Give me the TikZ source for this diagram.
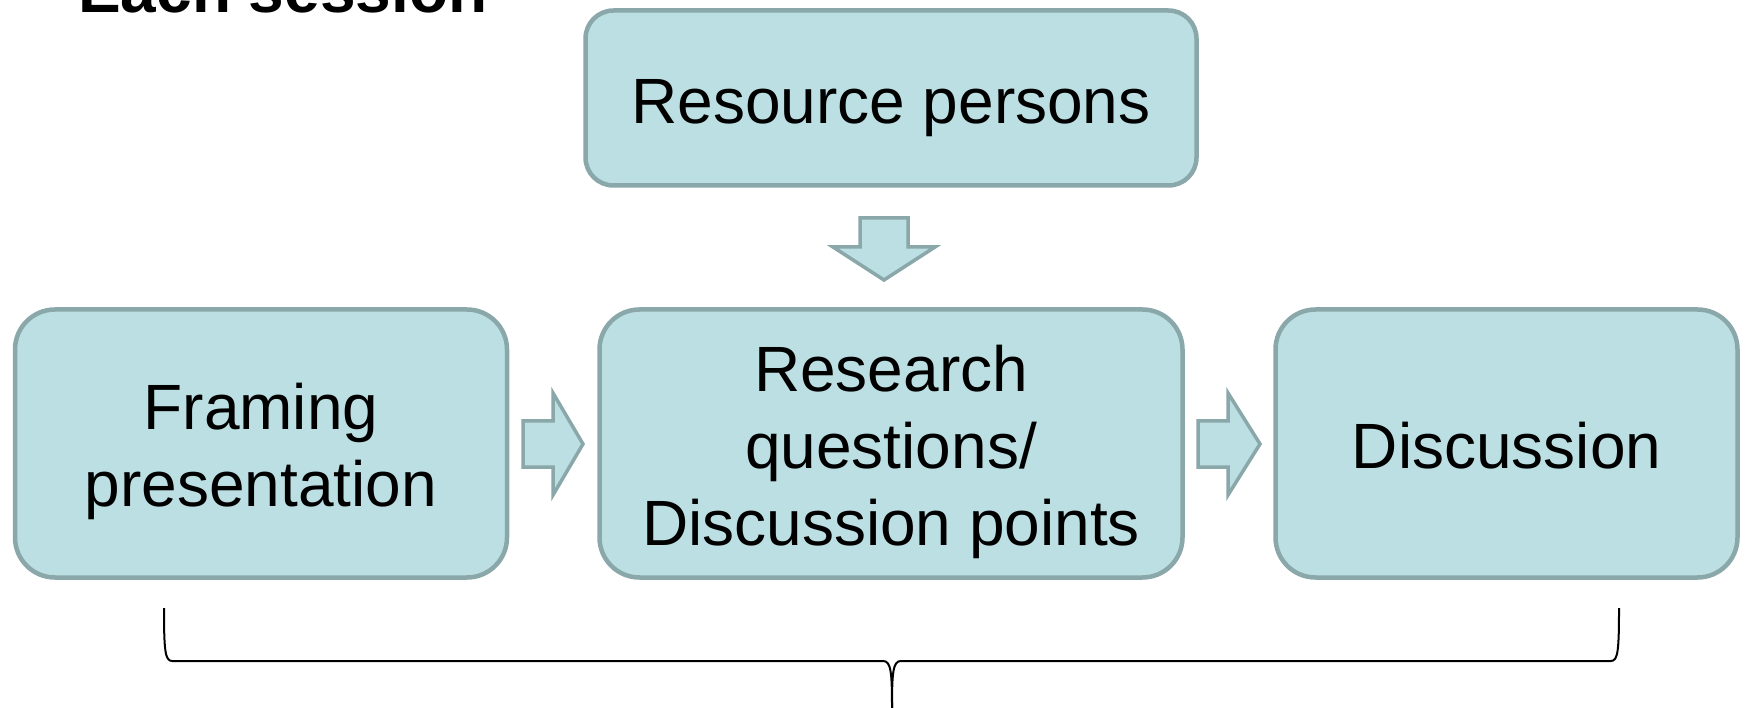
\documentclass[tikz,border=0pt]{standalone}
\usepackage{fontspec}
\setmainfont{Liberation Sans}
\usetikzlibrary{calc}
\definecolor{boxfill}{HTML}{BBDFE2}
\definecolor{boxline}{HTML}{8AA7A9}
\begin{document}
\begin{tikzpicture}[x=1pt,y=-1pt,
  stagebox/.style={draw=boxline, fill=boxfill, line width=4.5pt, rectangle,
    rounded corners=40pt, inner sep=0pt},
  stagetext/.style={inner sep=0pt, align=center, font=\fontsize{64}{77}\selectfont},
  blockarrow/.style={draw=boxline, fill=boxfill, line width=3.5pt, line join=miter},
  bracepath/.style={draw=black, line width=2pt}
]
\useasboundingbox (0,0) rectangle (1746,708);
\node[anchor=base west, font=\bfseries\fontsize{64}{76}\selectfont, inner sep=0pt] (title) at (78,13) {Each session};
\node[stagebox, rounded corners=28pt, minimum width=611pt, minimum height=175pt] (res) at (891,98) {};
\node[stagebox, minimum width=492pt, minimum height=268pt] (fram) at (261,443.5) {};
\node[stagebox, minimum width=583pt, minimum height=268pt] (mid) at (891,443.5) {};
\node[stagebox, minimum width=462pt, minimum height=268pt] (disc) at (1506.5,443.5) {};
\node[stagetext] (rest) at ($(res.center)+(0,10)$) {Resource persons};
\node[stagetext] (framt) at ($(fram.center)+(0,8)$) {Framing\\presentation};
\node[stagetext] (midt) at ($(mid.center)+(0,8)$) {Research\\questions/\\Discussion points};
\node[stagetext] (disct) at ($(disc.center)+(0,2)$) {Discussion};
% block arrows
\coordinate (a1) at (523,444);
\coordinate (a2) at (1198,444);
\coordinate (a3) at (884,218);
\draw[blockarrow] (a1) ++(0,-23) -- ++(30,0) -- ++(0,-28) -- ++(30,51) -- ++(-30,51) -- ++(0,-28) -- ++(-30,0) -- cycle;
\draw[blockarrow] (a2) ++(0,-23) -- ++(30,0) -- ++(0,-28) -- ++(32,51) -- ++(-32,51) -- ++(0,-28) -- ++(-30,0) -- cycle;
\draw[blockarrow] (a3) ++(-24,0) -- ++(0,29) -- ++(-27,0) -- ++(51,33) -- ++(51,-33) -- ++(-27,0) -- ++(0,-29) -- cycle;
% brace
\coordinate (bl) at (164,608);
\coordinate (br) at (1619,608);
\coordinate (bc) at (892,708);
\draw[bracepath] (bl) .. controls (164,650) and (165,661) .. (172,661) -- (883,661)
  .. controls (891,661) and (892,672) .. (bc);
\draw[bracepath] (br) .. controls (1619,650) and (1618,661) .. (1611,661) -- (901,661)
  .. controls (893,661) and (892,672) .. (bc);
\end{tikzpicture}
\end{document}
